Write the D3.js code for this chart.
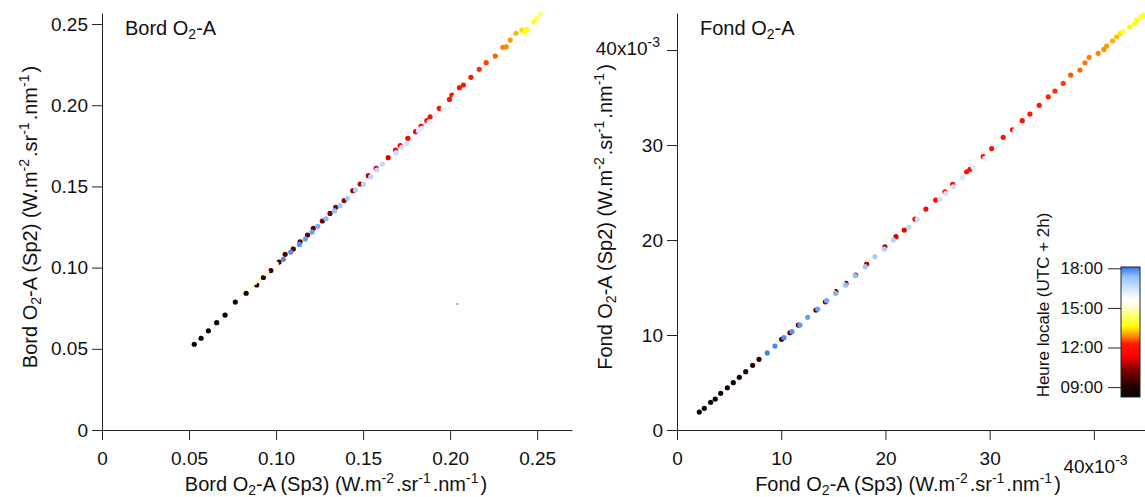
<!DOCTYPE html>
<html><head><meta charset="utf-8">
<script src="https://cdn.jsdelivr.net/npm/d3@7"></script>
<style>
body{margin:0;background:#fff;}
text{font-family:Arial,"Liberation Sans",sans-serif;fill:#111;}
</style>
</head><body>
<svg id="chart" width="1145" height="497"></svg>
<script>
// ---------------- DATA ----------------
// "Bord O2-A" panel (W.m-2.sr-1.nm-1)
const bordSp3 = [.0530,.0569,.0611,.0659,.0707,.0766,.0828,.0889,.0927,.0970,.1017,.1052,.1099,.1138,.1181,.1214,.1266,.1310,.1343,.1391,.1441,.1483,.1530,.1575,.1644,.1686,.1713,.1757,.1801,.1833,.1866,.1885,.1937,.1996,.2010,.2053,.2076,.2119,.2167,.2207,.2259,.2303,.2322,.2345,.2379,.2412,.2441,.2431,.2479,.2498,.2517,
  .0860,.0902,.0950,.1004,.1071,.1109,.0880,.0935,
  .2029,.1960,.1914,.1879,.1837,.1818,.1751,.1722,.1690,.1611,.1579,.1544,.1502,.1456,.1410,.1368,.1335,.1287,.1240,.1207,.1168,.1134,.1084,.1042];
const bordSp2 = [.0528,.0565,.0611,.0661,.0708,.0788,.0842,.0893,.0939,.0982,.1034,.1082,.1115,.1159,.1201,.1242,.1287,.1334,.1371,.1413,.1474,.1515,.1566,.1611,.1677,.1724,.1751,.1796,.1837,.1872,.1905,.1929,.1981,.2036,.2063,.2108,.2124,.2172,.2221,.2262,.2303,.2357,.2360,.2401,.2443,.2463,.2467,.2451,.2514,.2535,.2562,
  .0879,.0917,.0975,.1026,.1108,.1139,.0905,.0962,
  .2052,.1978,.1940,.1898,.1858,.1843,.1765,.1741,.1708,.1638,.1601,.1560,.1515,.1478,.1427,.1381,.1349,.1301,.1254,.1219,.1176,.1143,.1096,.1051];
const bordHour = [8.25,8.35,8.45,8.55,8.65,8.8,8.95,9.1,9.25,9.4,9.5,9.6,9.7,9.8,9.9,10.0,10.1,10.2,10.3,10.4,10.55,10.7,10.85,11.0,11.2,11.35,11.45,11.55,11.65,11.75,11.85,11.9,12.0,12.1,12.15,12.2,12.25,12.3,12.4,12.5,12.65,12.8,12.85,12.95,13.15,13.4,13.6,13.7,13.8,14.2,14.5,
  15.1,15.1,15.1,15.1,15.1,15.1,15.1,15.1,
  15.9,16.0,16.1,16.2,16.3,16.35,16.5,16.55,16.6,16.7,16.75,16.8,16.9,17.0,17.1,17.2,17.3,17.45,17.55,17.65,17.7,17.8,17.85,17.9];
const bordOutlierSp3 = [.2040];
const bordOutlierSp2 = [.0776];

// "Fond O2-A" panel (x10^-3 W.m-2.sr-1.nm-1)
const fondSp3 = [2.14,2.62,3.23,3.67,4.19,4.83,5.40,5.98,6.59,7.26,7.87,10.04,10.84,11.64,13.33,14.24,15.25,16.21,17.14,18.20,19.95,21.01,21.80,22.83,23.88,24.82,25.71,26.45,27.79,28.11,29.38,30.19,31.30,32.18,33.12,33.86,34.75,35.62,36.26,37.06,37.77,38.66,39.14,39.55,40.41,40.96,41.22,41.79,42.18,42.56,42.81,43.45,43.93,44.10,44.58,44.73,
  15.0,15.95,17.39,18.25,18.90,20.11,16.7,14.2,
  32.42,30.82,29.54,28.42,27.41,26.50,25.80,25.23,23.05,22.25,20.75,19.89,18.99,18.06,17.10,16.18,15.22,14.36,13.50,12.54,11.80,11.03,10.26,9.40,8.66];
const fondSp2 = [1.89,2.28,2.92,3.26,3.86,4.45,4.98,5.55,6.14,6.81,7.44,9.55,10.24,11.05,12.63,13.49,14.56,15.44,16.32,17.47,19.29,20.35,21.05,22.21,23.26,24.21,25.08,25.86,27.19,27.44,28.77,29.63,30.81,31.61,32.56,33.26,34.18,35.08,35.68,36.49,37.37,37.89,38.66,39.23,39.65,40.07,40.42,40.98,41.40,41.76,41.93,42.45,42.74,43.16,43.51,43.68,
  14.56,15.44,17.19,17.89,18.45,20.18,16.4,13.9,
  31.53,29.89,28.60,27.65,26.56,25.61,24.92,24.28,22.18,21.34,20.00,19.05,18.24,17.19,16.24,15.26,14.39,13.61,12.74,11.86,11.05,10.35,9.72,8.84,8.11];
const fondHour = [8.25,8.35,8.45,8.55,8.65,8.75,8.85,8.95,9.05,9.15,9.3,9.5,9.65,9.8,9.95,10.1,10.25,10.4,10.55,10.7,10.9,11.1,11.25,11.4,11.55,11.65,11.75,11.8,11.9,11.95,12.0,12.05,12.1,12.15,12.2,12.25,12.3,12.35,12.4,12.5,12.6,12.7,12.75,12.8,12.85,12.9,12.95,13.1,13.2,13.4,14.0,13.6,13.7,13.75,13.8,13.85,
  15.1,15.1,15.1,15.1,15.1,15.1,15.1,15.1,
  15.9,16.0,16.2,16.3,16.4,16.5,16.55,16.6,16.7,16.8,16.9,17.0,17.1,17.2,17.3,17.4,17.5,17.6,17.65,17.7,17.75,17.8,17.85,17.9,17.95];

// Ticks
const bordTicks = [0,0.05,0.10,0.15,0.20,0.25];
const bordTickLabels = ["0","0.05","0.10","0.15","0.20","0.25"];
const fondTicks = [0,10,20,30,40];
const fondTickLabels = ["0","10","20","30","40"];
const hourTicks = [9,12,15,18];
const hourTickLabels = ["09:00","12:00","15:00","18:00"];

// Colour map (hour -> colour)
const cmapHours  = [8.2,9.0,10.3,11.4,12.3,12.8,13.2,13.6,14.6,15.3,15.7,16.6,17.4,18.1];
const cmapColors = ["#000000","#200000","#800000","#ff0000","#ff1800","#ff8000","#ffc000","#ffff00","#ffff90","#ffffe8","#ffffff","#c8e0ff","#90c0ff","#3070f0"];

// ---------------- DRAW ----------------
const svg = d3.select("#chart");
const color = d3.scaleLinear().domain(cmapHours).range(cmapColors).clamp(true);

function rich(sel, parts){
  let cur = 0, prevSup = false;
  parts.forEach(([s,t])=>{
    const off = t==="sub"?4:(t==="sup"?-8:0);
    const ts = sel.append("tspan").text(s).attr("dy", off-cur);
    if(t==="sub"||t==="sup") ts.attr("font-size","14px");
    if(prevSup && t!=="sup") ts.attr("dx",2);
    prevSup = t==="sup";
    cur = off;
  });
}
const unitParts = [[" (W.m",""],["-2","sup"],[".sr",""],["-1","sup"],[".nm",""],["-1","sup"],[")",""]];

function styleAxis(g, fs){
  g.selectAll("path.domain").attr("stroke","#222").attr("stroke-width",1);
  g.selectAll(".tick line").attr("stroke","#222");
  g.selectAll("text").attr("font-size",fs).attr("fill","#111")
    .attr("font-family","Arial, 'Liberation Sans', sans-serif");
}

function panel(cfg){
  const x = d3.scaleLinear().domain(cfg.xDom).range(cfg.xRange);
  const y = d3.scaleLinear().domain(cfg.yDom).range([430,13]);
  const gx = svg.append("g").attr("transform","translate(0,430)")
    .call(d3.axisBottom(x).tickValues(cfg.ticks).tickFormat((d,i)=>cfg.labels[i])
      .tickSize(10).tickPadding(12).tickSizeOuter(0));
  const gy = svg.append("g").attr("transform",`translate(${cfg.xRange[0]},0)`)
    .call(d3.axisLeft(y).tickValues(cfg.ticks).tickFormat((d,i)=>cfg.labels[i])
      .tickSize(10).tickPadding(4).tickSizeOuter(0));
  styleAxis(gx,"19px"); styleAxis(gy,"19px");
  if(cfg.exp){
    const lx = gx.selectAll(".tick text").filter((d,i,n)=>i===n.length-1);
    lx.text(null).attr("text-anchor","start").attr("x",-31).attr("y",43).attr("dy",0);
    rich(lx,[["40x10",""],["-3","sup"]]);
    const ly = gy.selectAll(".tick text").filter((d,i,n)=>i===n.length-1);
    ly.text(null).attr("dy","0.32em").attr("y",4).attr("x",-17);
    rich(ly,[["40x10",""],["-3","sup"]]);
  }
  const pts = cfg.sx.map((v,i)=>({x:v,y:cfg.sy[i],h:cfg.hr[i]}));
  svg.append("g").selectAll("circle").data(pts).join("circle")
    .attr("cx",d=>x(d.x)).attr("cy",d=>y(d.y)).attr("r",d=>Math.abs(d.h-15.1)<0.01?2:2.6)
    .attr("fill",d=>color(d.h));
  if(cfg.ox){
    svg.append("g").selectAll("rect").data(cfg.ox.map((v,i)=>({x:v,y:cfg.oy[i]}))).join("rect")
      .attr("x",d=>x(d.x)-1).attr("y",d=>y(d.y)-1).attr("width",2).attr("height",2).attr("fill","#aaa");
  }
  const t = svg.append("text").attr("x",cfg.xRange[0]+23).attr("y",35).attr("font-size","20px");
  rich(t,[[cfg.name+" O",""],["2","sub"],["-A",""]]);
  const xt = svg.append("text").attr("x",cfg.xTitleX).attr("y",491).attr("text-anchor","middle").attr("font-size","20px");
  rich(xt,[[cfg.name+" O",""],["2","sub"],["-A (Sp3)",""]].concat(unitParts));
  const yt = svg.append("text").attr("transform",`translate(${cfg.yTitleX},217) rotate(-90)`)
    .attr("text-anchor","middle").attr("font-size","20px");
  rich(yt,[[cfg.name+" O",""],["2","sub"],["-A (Sp2)",""]].concat(unitParts));
}

panel({name:"Bord", xDom:[0,0.27], xRange:[102,572], yDom:[0,0.2568],
  ticks:bordTicks, labels:bordTickLabels, sx:bordSp3, sy:bordSp2, hr:bordHour,
  ox:bordOutlierSp3, oy:bordOutlierSp2, xTitleX:336, yTitleX:37});
panel({name:"Fond", xDom:[0,45], xRange:[677,1146], yDom:[0,43.9],
  ticks:fondTicks, labels:fondTickLabels, sx:fondSp3, sy:fondSp2, hr:fondHour,
  exp:true, xTitleX:908, yTitleX:612});

// colour bar
const hScale = d3.scaleLinear().domain([8.25,18.1]).range([397,267]);
const defs = svg.append("defs");
const grad = defs.append("linearGradient").attr("id","cbar").attr("x1",0).attr("y1",1).attr("x2",0).attr("y2",0);
const hd = hScale.domain();
cmapHours.forEach((h,i)=>{
  grad.append("stop").attr("offset",Math.max(0,Math.min(1,(h-hd[0])/(hd[1]-hd[0])))).attr("stop-color",cmapColors[i]);
});
svg.append("rect").attr("x",1121).attr("y",hScale(hd[1])).attr("width",19)
  .attr("height",hScale(hd[0])-hScale(hd[1])).attr("fill","url(#cbar)").attr("stroke","#222").attr("stroke-width",1);
const gc = svg.append("g").attr("transform","translate(1121,0)")
  .call(d3.axisLeft(hScale).tickValues(hourTicks).tickFormat((d,i)=>hourTickLabels[i]).tickSize(13).tickPadding(5).tickSizeOuter(0));
gc.select("path.domain").remove();
styleAxis(gc,"17px");
svg.append("text").attr("transform","translate(1049,305) rotate(-90)").attr("text-anchor","middle")
  .attr("font-size","17px").text("Heure locale (UTC + 2h)");
</script>
</body></html>
